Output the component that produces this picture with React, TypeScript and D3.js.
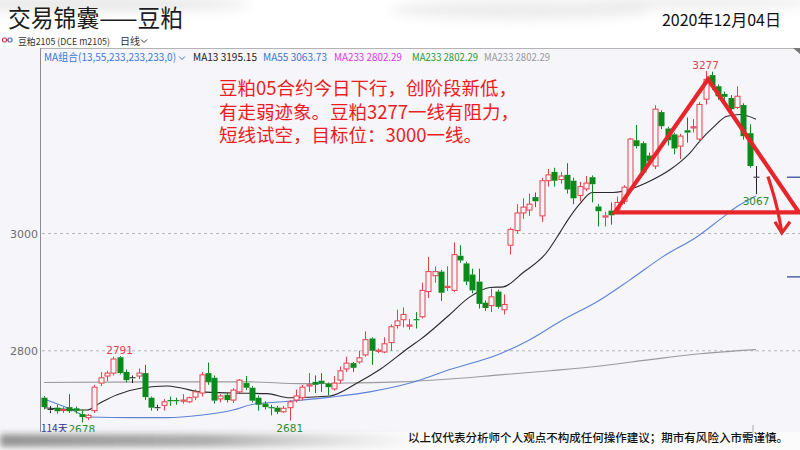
import React from "react";
import * as d3 from "d3";

const W = 800;
const H = 450;

// Daily soybean meal m2105 candles, oldest first
const opens = [
  2720, 2700, 2703, 2699, 2704, 2702, 2692, 2686, 2698, 2745,
  2757, 2762, 2789, 2764, 2754, 2757, 2762, 2720, 2703, 2707,
  2716, 2716, 2714, 2713, 2721, 2728, 2762, 2754, 2718, 2725,
  2716, 2730, 2745, 2737, 2720, 2710, 2704, 2703, 2696, 2703,
  2716, 2720, 2740, 2747, 2749, 2744, 2735, 2750, 2769, 2779,
  2781, 2793, 2821, 2799, 2798, 2814, 2843, 2853, 2842, 2854,
  2858, 2901, 2928, 2935, 2908, 2903, 2962, 2949, 2930, 2918,
  2882, 2877, 2901, 2870, 2980, 3005, 3035, 3040, 3062, 3030,
  3090, 3105, 3092, 3100, 3090, 3065, 3076, 3096, 3046, 3028,
  3039, 3041, 3055, 3075, 3159, 3154, 3133, 3115, 3207, 3179,
  3169, 3149, 3176, 3180, 3161, 3229, 3270, 3251, 3238, 3231,
  3215, 3219, 3171, 3096,
];
const highs = [
  2723, 2706, 2708, 2704, 2726, 2705, 2700, 2692, 2742, 2764,
  2766, 2790, 2791, 2768, 2758, 2770, 2776, 2722, 2708, 2718,
  2722, 2720, 2726, 2722, 2734, 2764, 2780, 2758, 2726, 2728,
  2736, 2752, 2757, 2740, 2724, 2714, 2708, 2706, 2706, 2716,
  2734, 2742, 2762, 2758, 2762, 2746, 2757, 2773, 2790, 2781,
  2800, 2833, 2823, 2804, 2823, 2845, 2870, 2874, 2854, 2866,
  2916, 2960, 2944, 2938, 2944, 2985, 2980, 2952, 2940, 2940,
  2886, 2906, 2904, 2896, 3010, 3050, 3060, 3068, 3070, 3095,
  3110, 3112, 3105, 3120, 3095, 3088, 3098, 3099, 3050, 3037,
  3053, 3063, 3082, 3163, 3185, 3157, 3138, 3219, 3210, 3182,
  3172, 3170, 3198, 3195, 3224, 3277, 3276, 3254, 3242, 3236,
  3251, 3222, 3186, 3115,
];
const lows = [
  2700, 2694, 2693, 2694, 2694, 2693, 2678, 2682, 2694, 2740,
  2748, 2758, 2760, 2746, 2745, 2752, 2716, 2698, 2698, 2698,
  2706, 2708, 2710, 2711, 2716, 2722, 2742, 2710, 2712, 2712,
  2711, 2728, 2733, 2712, 2698, 2700, 2690, 2692, 2694, 2681,
  2712, 2716, 2730, 2728, 2730, 2724, 2732, 2744, 2764, 2764,
  2778, 2790, 2776, 2796, 2796, 2800, 2838, 2840, 2836, 2838,
  2855, 2890, 2916, 2885, 2902, 2900, 2950, 2912, 2898, 2872,
  2868, 2866, 2872, 2862, 2964, 3000, 3025, 3030, 3045, 3020,
  3080, 3080, 3085, 3068, 3050, 3055, 3072, 3053, 3012, 3012,
  3015, 3035, 3050, 3070, 3145, 3100, 3115, 3110, 3178, 3150,
  3135, 3127, 3155, 3172, 3155, 3220, 3245, 3228, 3226, 3208,
  3212, 3160, 3112, 3067,
];
const closes = [
  2704, 2700, 2697, 2700, 2697, 2698, 2687, 2690, 2738, 2754,
  2762, 2786, 2762, 2750, 2754, 2762, 2721, 2703, 2703, 2713,
  2714, 2714, 2716, 2720, 2730, 2759, 2747, 2715, 2723, 2716,
  2733, 2750, 2737, 2715, 2708, 2704, 2702, 2696, 2702, 2713,
  2723, 2738, 2742, 2742, 2744, 2738, 2745, 2766, 2779, 2771,
  2788, 2819, 2800, 2801, 2812, 2841, 2851, 2862, 2844, 2852,
  2903, 2935, 2935, 2899, 2910, 2964, 2954, 2918, 2903, 2880,
  2873, 2892, 2875, 2879, 3007, 3035, 3045, 3050, 3055, 3090,
  3100, 3090, 3098, 3075, 3060, 3080, 3086, 3084, 3038, 3030,
  3031, 3053, 3079, 3161, 3149, 3104, 3123, 3212, 3183, 3159,
  3145, 3166, 3172, 3182, 3220, 3263, 3251, 3234, 3233, 3212,
  3234, 3166, 3115, 3096,
];

// Moving averages, sampled as [day index, value]
const ma13 = [
  [0, 2703], [6.8, 2699], [8.9, 2711], [11.6, 2725], [15.7, 2737], [19.5, 2740],
  [21.6, 2737], [24.8, 2730], [30, 2728], [35.4, 2727], [39, 2720], [45.4, 2723],
  [49.7, 2745], [53.3, 2768], [58.1, 2807], [59.7, 2819], [64, 2858], [67.6, 2892],
  [70.8, 2908], [72.9, 2909], [76, 2933], [79.8, 2968], [81.9, 3002], [83.2, 3024],
  [85, 3050], [87, 3070], [90.3, 3070], [91.9, 3072], [95.7, 3087], [99.4, 3109],
  [101, 3122], [102.5, 3137], [104.1, 3158], [106.2, 3181], [108.4, 3200],
  [110.5, 3203], [113, 3195],
];
const ma55 = [
  [0, 2718], [3.7, 2703], [7.3, 2687], [14.1, 2686], [19.5, 2686], [24.8, 2690],
  [30, 2699], [33.2, 2709], [37.9, 2713], [45.4, 2721], [51.7, 2730], [58.1, 2745],
  [64.4, 2768], [72.4, 2795], [77.1, 2819], [81.9, 2850], [88.3, 2887], [93, 2921],
  [98.3, 2961], [103.7, 2995], [107.3, 3024], [110, 3046], [113, 3064],
];
const ma233 = [
  [0, 2746], [16.8, 2747], [32.7, 2747], [40.6, 2744], [48, 2745], [56.5, 2747],
  [64.4, 2752], [72.4, 2759], [80.3, 2766], [88.3, 2774], [96.2, 2785],
  [104.1, 2795], [113, 2802],
];

const yTicks = [2800, 3000];

// Marked extremes: [day index, value, "high" | "low"]
const extremes: [number, number, string][] = [
  [6, 2678, "low"],
  [12, 2791, "high"],
  [39, 2681, "low"],
  [105, 3277, "high"],
  [113, 3067, "low"],
];

// Hand-drawn triangle and target arrow, in [day index, price]
const triangle = [
  [90.6, 3036],
  [105.4, 3263],
  [119.8, 3036],
];
const arrowShaft = [
  [114.9, 3097],
  [116.3, 3050],
  [117.1, 3002],
];
const arrowHead = [
  [116.0, 3020],
  [117.1, 3001],
  [118.4, 3020],
];

const legendItems = [
  { text: "MA13 3195.15", color: "#222222", x: 193, w: 64 },
  { text: "MA55 3063.73", color: "#3b78d6", x: 263, w: 64 },
  { text: "MA233 2802.29", color: "#e03ae0", x: 334, w: 68 },
  { text: "MA233 2802.29", color: "#2f9b2f", x: 412, w: 66 },
  { text: "MA233 2802.29", color: "#9a9a9a", x: 484, w: 66 },
];

const noteLines = [
  "豆粕05合约今日下行，创阶段新低，",
  "有走弱迹象。豆粕3277一线有阻力，",
  "短线试空，目标位：3000一线。",
];

const CJK = "'Noto Sans CJK SC', 'Noto Sans', sans-serif";
const UP = "#e5414b";
const DOWN = "#0b8a1c";
const BG = "#f5f5fa";

export default function App() {
  const x = d3.scaleLinear().domain([0, 113]).range([44, 756]);
  const y = d3.scaleLinear().domain([2800, 3000]).range([350.8, 233.5]);
  const bodyW = 5;

  const maLine = d3
    .line<number[]>()
    .x((d) => x(d[0]))
    .y((d) => y(d[1]))
    .curve(d3.curveMonotoneX);
  const poly = d3
    .line<number[]>()
    .x((d) => x(d[0]))
    .y((d) => y(d[1]));
  const curved = d3
    .line<number[]>()
    .x((d) => x(d[0]))
    .y((d) => y(d[1]))
    .curve(d3.curveBasis);

  return (
    <svg
      width={W}
      height={H}
      viewBox={`0 0 ${W} ${H}`}
      style={{ position: "absolute", left: 0, top: 0, display: "block" }}
    >
      <defs>
        <filter id="soft" x="-30%" y="-200%" width="160%" height="500%">
          <feGaussianBlur stdDeviation="6" />
        </filter>
        <filter id="softer" x="-10%" y="-100%" width="120%" height="300%">
          <feGaussianBlur stdDeviation="3" />
        </filter>
        <linearGradient id="footFade" x1="0" x2="1" y1="0" y2="0">
          <stop offset="0" stopColor="#8e8e8e" stopOpacity="0.95" />
          <stop offset="0.5" stopColor="#a0a0a0" stopOpacity="0.85" />
          <stop offset="1" stopColor="#bbbbbb" stopOpacity="0" />
        </linearGradient>
        <clipPath id="plot">
          <rect x={41} y={48} width={W - 41} height={384} />
        </clipPath>
      </defs>

      {/* header */}
      <rect x={0} y={0} width={W} height={48} fill="#ffffff" />
      <g filter="url(#soft)" opacity={0.45}>
        <ellipse cx={90} cy={4} rx={160} ry={7} fill="#c8c8c8" />
        <ellipse cx={520} cy={10} rx={130} ry={9} fill="#d4d4d4" />
        <ellipse cx={700} cy={3} rx={120} ry={5} fill="#d0d0d0" />
      </g>
      <text
        x={8}
        y={27}
        fontSize={23.5}
        fill="#1c1c1c"
        fontFamily={CJK}
        textLength={175}
        lengthAdjust="spacingAndGlyphs"
      >
        交易锦囊——豆粕
      </text>
      <text x={781} y={26} fontSize={16} fill="#111" fontFamily={CJK} textAnchor="end">
        2020年12月04日
      </text>

      {/* instrument line */}
      <rect x={2.5} y={38} width={4} height={4} rx={1.5} fill="none" stroke="#d33" strokeWidth={1.2} />
      <rect x={8} y={38} width={4} height={4} rx={1.5} fill="none" stroke="#36c" strokeWidth={1.2} />
      <line x1={6.5} x2={8} y1={40} y2={40} stroke="#666" strokeWidth={1} />
      <text
        x={18}
        y={44.5}
        fontSize={9.5}
        fill="#333"
        fontFamily={CJK}
        textLength={92}
        lengthAdjust="spacingAndGlyphs"
      >
        豆粕2105 (DCE m2105)
      </text>
      <text x={120} y={44.5} fontSize={10} fill="#333" fontFamily={CJK}>
        日线
      </text>
      <path d="M141,39.5 L144,42.5 L147,39.5" fill="none" stroke="#333" strokeWidth={1} />

      {/* plot area */}
      <rect x={0} y={48} width={W} height={384} fill={BG} />
      <line x1={41} x2={W} y1={48.5} y2={48.5} stroke="#b4b4b8" strokeWidth={1} />
      <path d="M793,48 L800,48 L800,54 Z" fill="#777" />
      <line x1={40.5} x2={40.5} y1={48} y2={432} stroke="#8c8c8c" strokeWidth={1} />

      {yTicks.map((t) => (
        <g key={t}>
          <line
            x1={42}
            x2={W}
            y1={y(t)}
            y2={y(t)}
            stroke="#b8b8bc"
            strokeDasharray="3,3"
            strokeWidth={1}
          />
          <text
            x={38}
            y={y(t) + 4}
            fontSize={11}
            fill="#6e6e6e"
            textAnchor="end"
            fontFamily="'DejaVu Sans', sans-serif"
          >
            {t}
          </text>
        </g>
      ))}

      {/* legend */}
      <text
        x={44}
        y={60.5}
        fontSize={10.5}
        fill="#3b78d6"
        fontFamily={CJK}
        textLength={132}
        lengthAdjust="spacingAndGlyphs"
      >
        MA组合(13,55,233,233,233,0)
      </text>
      <path d="M179,56.5 L182,59.5 L185,56.5" fill="none" stroke="#3b78d6" strokeWidth={1} />
      {legendItems.map((it, i) => (
        <text
          key={i}
          x={it.x}
          y={60.5}
          fontSize={10.5}
          fill={it.color}
          fontFamily={CJK}
          textLength={it.w}
          lengthAdjust="spacingAndGlyphs"
        >
          {it.text}
        </text>
      ))}

      <g clipPath="url(#plot)">
        {/* moving averages */}
        <path d={maLine(ma233) || ""} fill="none" stroke="#9b9b9b" strokeWidth={1.1} />
        <path d={maLine(ma55) || ""} fill="none" stroke="#5d82d6" strokeWidth={1.1} />
        <path d={maLine(ma13) || ""} fill="none" stroke="#2a2a2a" strokeWidth={1.1} />

        {/* candles */}
        {opens.map((o, i) => {
          const c = closes[i];
          const cx = Math.round(x(i)) + 0.5;
          const color = c > o ? UP : c < o ? DOWN : "#222";
          const top = y(Math.max(o, c));
          const bot = y(Math.min(o, c));
          const hgt = Math.max(bot - top, 1);
          return (
            <g key={i}>
              <line x1={cx} x2={cx} y1={y(highs[i])} y2={top} stroke={color} strokeWidth={1} />
              <line x1={cx} x2={cx} y1={top + hgt} y2={y(lows[i])} stroke={color} strokeWidth={1} />
              {c > o ? (
                <rect
                  x={cx - bodyW / 2}
                  y={top}
                  width={bodyW}
                  height={hgt}
                  fill={BG}
                  stroke={color}
                  strokeWidth={1}
                />
              ) : c < o ? (
                <rect x={cx - bodyW / 2 - 0.5} y={top} width={bodyW + 1} height={hgt} fill={color} />
              ) : (
                <line x1={cx - 3} x2={cx + 3} y1={top} y2={top} stroke={color} strokeWidth={1} />
              )}
            </g>
          );
        })}

        {/* right-edge markers */}
        <line x1={787} x2={W} y1={y(3096)} y2={y(3096)} stroke="#2b3f8f" strokeWidth={1.2} />
        <line x1={787} x2={W} y1={y(2926)} y2={y(2926)} stroke="#2b3f8f" strokeWidth={1.2} />
      </g>

      {/* extreme labels */}
      {extremes.map(([i, v, kind]) => (
        <text
          key={i}
          x={x(i)}
          y={kind === "high" ? y(v) - 2.5 : y(v) + 11}
          fontSize={10.5}
          textAnchor="middle"
          fill={kind === "high" ? "#e0434c" : "#2e8a2e"}
          fontFamily="'DejaVu Sans', sans-serif"
        >
          {v}
        </text>
      ))}
      <text x={41} y={432} fontSize={10} fill="#2d2d94" fontFamily={CJK}>
        114天
      </text>

      {/* annotation */}
      {noteLines.map((s, i) => (
        <text key={i} x={219} y={95 + i * 23.5} fontSize={18.5} fill="#ec1c24" fontFamily={CJK}>
          {s}
        </text>
      ))}
      <path
        d={(poly(triangle) || "") + "Z"}
        fill="none"
        stroke="#e7262c"
        strokeWidth={4.2}
        strokeLinejoin="miter"
      />
      <path d={curved(arrowShaft) || ""} fill="none" stroke="#e7262c" strokeWidth={3.2} />
      <path d={poly(arrowHead) || ""} fill="none" stroke="#e7262c" strokeWidth={3.2} />

      {/* footer */}
      <rect x={0} y={432} width={W} height={18} fill="#fbfbfb" />
      <rect x={0} y={434} width={420} height={13} fill="url(#footFade)" filter="url(#softer)" />
      <line x1={753} x2={753} y1={425} y2={433} stroke="#aaa" strokeWidth={1} />
      <text
        x={408}
        y={442}
        fontSize={11.8}
        fill="#111"
        fontFamily={CJK}
        fontWeight={500}
        textLength={380}
        lengthAdjust="spacingAndGlyphs"
      >
        以上仅代表分析师个人观点不构成任何操作建议；期市有风险入市需谨慎。
      </text>
    </svg>
  );
}
